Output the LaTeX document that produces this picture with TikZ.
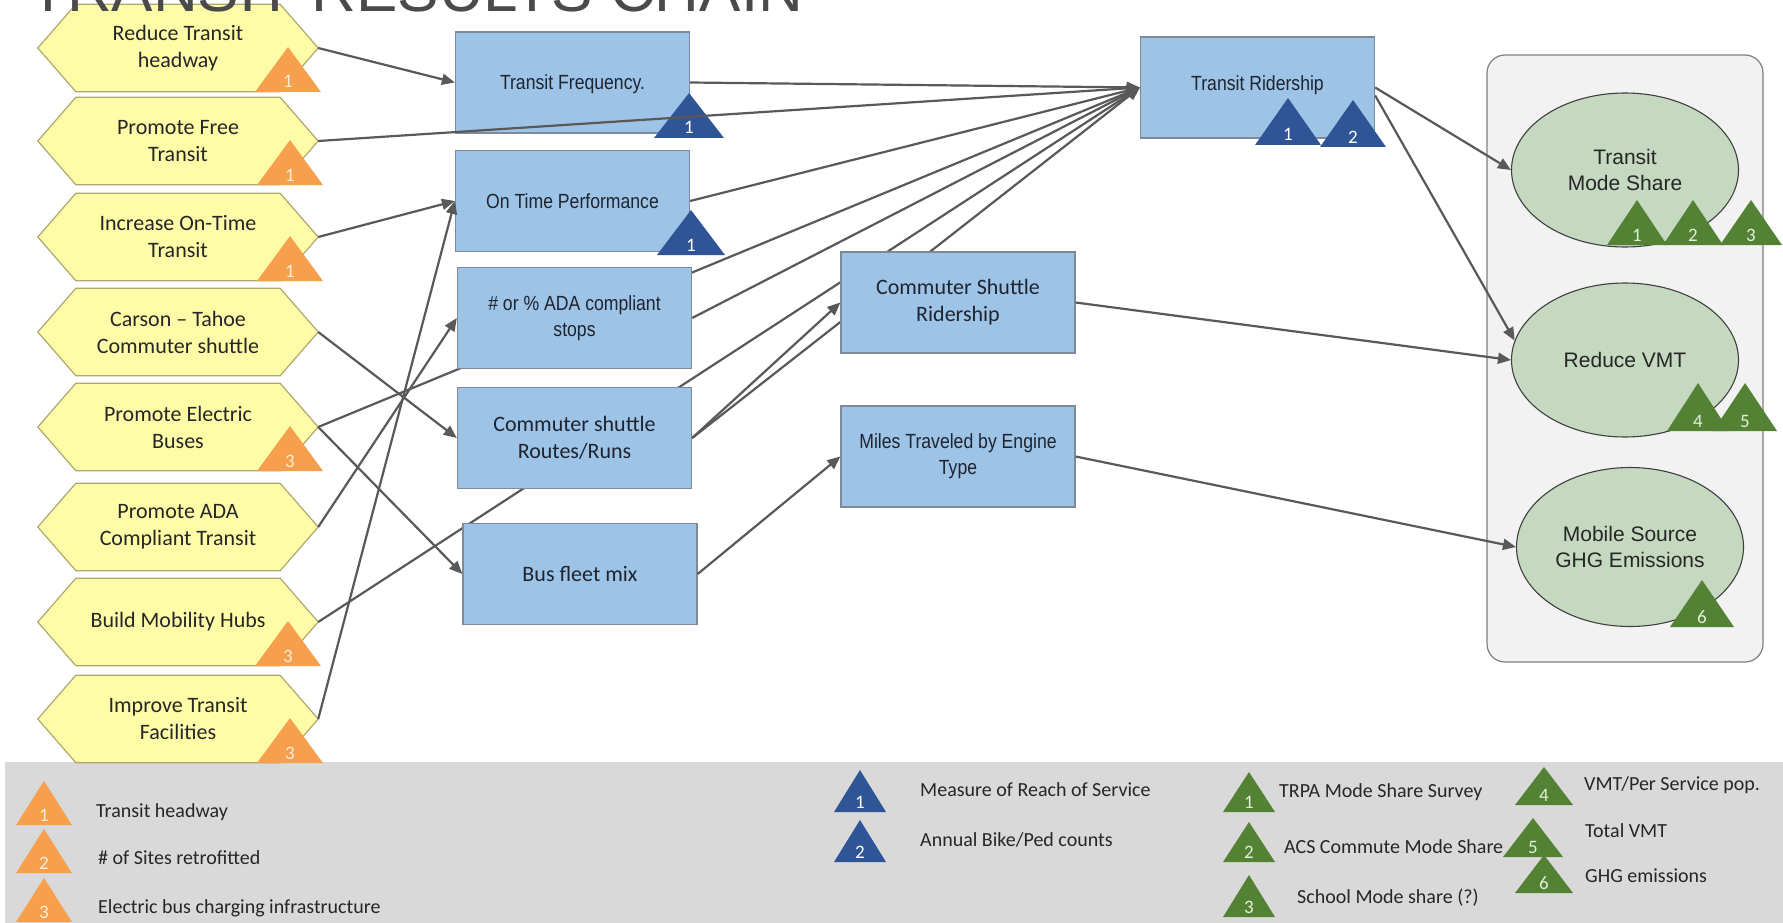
\documentclass[tikz,border=0pt]{standalone}
\usepackage{fontspec}
\setmainfont{Carlito}
\newfontfamily\arialf{Liberation Sans}
\newfontfamily\narrowf{Liberation Sans}[FakeStretch=0.86]
\usetikzlibrary{arrows.meta,shapes.geometric,calc}
\definecolor{hexfill}{HTML}{FFFCA8}
\definecolor{hexdraw}{HTML}{ADA86E}
\definecolor{orng}{HTML}{F6A04D}
\definecolor{orngtxt}{HTML}{FDEBDC}
\definecolor{boxfill}{HTML}{9DC3E6}
\definecolor{boxdraw}{HTML}{7F8A99}
\definecolor{boxtext}{HTML}{1E2430}
\definecolor{dblue}{HTML}{2F5597}
\definecolor{ellfill}{HTML}{C5D9C1}
\definecolor{elldraw}{HTML}{3F3F3F}
\definecolor{grn}{HTML}{548235}
\definecolor{grntxt}{HTML}{E2EFD9}
\definecolor{contfill}{HTML}{F2F2F2}
\definecolor{contdraw}{HTML}{7F7F7F}
\definecolor{bandclr}{HTML}{D9D9D9}
\definecolor{lineclr}{HTML}{595959}
\definecolor{titleclr}{HTML}{4A4A4A}
\definecolor{txtdark}{HTML}{262626}
\pgfdeclarelayer{bg}
\pgfdeclarelayer{behind}
\pgfsetlayers{bg,behind,main}
\newcommand\hexnode[4]{%
  \node[hexbox] (#1) at (#2,#3) {#4};
  \begin{pgfonlayer}{bg}
  \filldraw[hexsty] (#1.west) -- ([xshift=38pt]#1.north west) -- ([xshift=-38pt]#1.north east)
     -- (#1.east) -- ([xshift=-38pt]#1.south east) -- ([xshift=38pt]#1.south west) -- cycle;
  \end{pgfonlayer}}
\newcommand\tri[7]{%
  \fill[#2tri] (#3-#5,#4) -- (#3,#4-#6) -- (#3+#5,#4) -- cycle;
  \node[#2num] (#1) at (#3,#4-4) {#7};}
\begin{document}
\begin{tikzpicture}[x=1pt,y=-1pt,
  hexbox/.style={minimum width=280pt, minimum height=87pt, inner sep=0pt, align=center,
     font=\fontsize{22}{27}\selectfont, text=txtdark},
  hexsty/.style={fill=hexfill, draw=hexdraw, line width=1.2pt},
  bluebox/.style={rectangle, draw=boxdraw, fill=boxfill, line width=1.3pt, minimum width=234pt,
     minimum height=101pt, inner sep=0pt, align=center, text=boxtext},
  nar/.style={font=\narrowf\fontsize{20.5}{26}\selectfont},
  cal/.style={font=\fontsize{22}{27}\selectfont},
  ellbox/.style={ellipse, draw=elldraw, line width=1.1pt, fill=ellfill, minimum width=227pt,
     minimum height=154pt, inner sep=0pt, align=center, text=txtdark,
     font=\arialf\fontsize{21}{26}\selectfont},
  otri/.style={fill=orng}, btri/.style={fill=dblue}, gtri/.style={fill=grn},
  trinum/.style={anchor=base, inner sep=0pt, font=\fontsize{19}{19}\selectfont},
  onum/.style={trinum, text=orngtxt}, bnum/.style={trinum, text=white}, gnum/.style={trinum, text=grntxt},
  legtxt/.style={anchor=west, inner sep=0pt, font=\fontsize{20}{24}\selectfont, text=txtdark},
  conn/.style={draw=lineclr, line width=2.2pt, -{Triangle[length=13pt,width=11pt]}}
]
\useasboundingbox (0,0) rectangle (1783,923);
\begin{pgfonlayer}{bg}
  \fill[white] (0,0) rectangle (1783,923);
  \fill[bandclr] (5,762) rectangle (1783,923);
  \filldraw[draw=contdraw, fill=contfill, line width=1.2pt, rounded corners=18pt] (1487,55) rectangle (1763,662);
\end{pgfonlayer}
% title (cut at the top edge, as in the reference)
\begin{scope}
  \clip (0,0) rectangle (1783,923);
  \node[anchor=base west, inner sep=0pt, font=\arialf\fontsize{62}{62}\selectfont, text=titleclr] (title) at (29,12) {TRANSIT RESULTS CHAIN};
\end{scope}
% strategies
\hexnode{h1}{178}{48}{Reduce Transit\\headway}
\hexnode{h2}{178}{141}{Promote Free\\Transit}
\hexnode{h3}{178}{237}{Increase On-Time\\Transit}
\hexnode{h4}{178}{332}{Carson – Tahoe\\Commuter shuttle}
\hexnode{h5}{178}{427}{Promote Electric\\Buses}
\hexnode{h6}{178}{527}{Promote ADA\\Compliant Transit}
\hexnode{h7}{178}{622}{Build Mobility Hubs}
\hexnode{h8}{178}{719}{Improve Transit\\Facilities}
\tri{o1}{o}{288}{92}{33}{45}{1}
\tri{o2}{o}{290}{185}{33}{45}{1}
\tri{o3}{o}{290}{281}{33}{45}{1}
\tri{o5}{o}{290}{471}{33}{45}{3}
\tri{o7}{o}{288}{666}{33}{45}{3}
\tri{o8}{o}{290}{763}{33}{45}{3}
% output boxes
\node[bluebox, nar] (TF) at (572.5,82.5) {\raisebox{-7pt}[0pt][0pt]{Transit Frequency.}};
\node[bluebox, nar] (OTP) at (572.5,201) {On Time Performance};
\node[bluebox, nar] (ADA) at (574.5,318) {\# or \% ADA compliant\\stops};
\node[bluebox, cal] (CSR) at (574.5,438) {Commuter shuttle\\Routes/Runs};
\node[bluebox, cal] (BFM) at (580,574) {Bus fleet mix};
\node[bluebox, cal] (CSRd) at (958,302.5) {Commuter Shuttle\\Ridership};
\node[bluebox, nar] (MT) at (958,456.5) {Miles Traveled by Engine\\Type};
\node[bluebox, nar] (TR) at (1257.5,87.5) {\raisebox{-3pt}[0pt][0pt]{Transit Ridership}};
\tri{b1}{b}{689}{138}{35}{45}{1}
\tri{b2}{b}{691}{255}{34}{45}{1}
\tri{b3}{b}{1288}{145}{33}{47}{1}
\tri{b4}{b}{1353}{147}{33}{47}{2}
% outcomes
\node[ellbox] (E1) at (1625,170) {Transit\\Mode Share};
\node[ellbox] (E2) at (1625,360) {Reduce VMT};
\node[ellbox, minimum height=159pt] (E3) at (1630,547) {Mobile Source\\GHG Emissions};
\tri{g1}{g}{1637}{245}{30}{45}{1}
\tri{g2}{g}{1693}{245}{30}{45}{2}
\tri{g3}{g}{1751}{245}{31}{45}{3}
\tri{g4}{g}{1698}{431}{31}{48}{4}
\tri{g5}{g}{1745}{431}{32}{48}{5}
\tri{g6}{g}{1702}{627}{32}{47}{6}
% connectors hidden behind boxes
\begin{pgfonlayer}{behind}
  \draw[conn] (h5.east) -- (TR.west);
  \draw[conn] (h7.east) -- (TR.west);
  \draw[conn] (CSR.east) -- (TR.west);
\end{pgfonlayer}
% visible connectors
\draw[conn] (h1.east) -- (TF.west);
\draw[conn] (h2.east) -- (TR.west);
\draw[conn] (h3.east) -- (OTP.west);
\draw[conn] (h4.east) -- (CSR.west);
\draw[conn] (h5.east) -- (BFM.west);
\draw[conn] (h6.east) -- (ADA.west);
\draw[conn] (h8.east) -- (OTP.west);
\draw[conn] (TF.east) -- (TR.west);
\draw[conn] (OTP.east) -- (TR.west);
\draw[conn] (ADA.east) -- (TR.west);
\draw[conn] (CSR.east) -- (CSRd.west);
\draw[conn] (BFM.east) -- (MT.west);
\draw[conn] (TR.east) -- (E1.west);
\draw[conn] ([yshift=-8pt]TR.east) -- (E2.170);
\draw[conn] (CSRd.east) -- (E2.west);
\draw[conn] (MT.east) -- (E3.west);
% legend
\tri{lo1}{o}{44}{825}{28}{44}{1}
\tri{lo2}{o}{44}{873}{28}{44}{2}
\tri{lo3}{o}{44}{922}{28}{44}{3}
\node[legtxt] (t1) at (96,812) {Transit headway};
\node[legtxt] (t2) at (98,858) {\# of Sites retrofitted};
\node[legtxt] (t3) at (98,908) {Electric bus charging infrastructure};
\tri{lb1}{b}{860}{812}{26}{42}{1}
\tri{lb2}{b}{860}{862}{26}{42}{2}
\node[legtxt] (t4) at (920,790) {Measure of Reach of Service};
\node[legtxt] (t5) at (920,840) {Annual Bike/Ped counts};
\tri{lg1}{g}{1249}{812}{26}{40}{1}
\tri{lg2}{g}{1249}{862}{26}{40}{2}
\tri{lg3}{g}{1249}{917}{26}{42}{3}
\tri{lg4}{g}{1544}{805}{29}{38}{4}
\tri{lg5}{g}{1533}{857}{30}{39}{5}
\tri{lg6}{g}{1544}{893}{29}{38}{6}
\node[legtxt] (t6) at (1279,792) {TRPA Mode Share Survey};
\node[legtxt] (t7) at (1284,847) {ACS Commute Mode Share};
\node[legtxt] (t8) at (1297,898) {School Mode share (?)};
\node[legtxt] (t9) at (1584,785) {VMT/Per Service pop.};
\node[legtxt] (t10) at (1585,831) {Total VMT};
\node[legtxt] (t11) at (1585,876) {GHG emissions};
\end{tikzpicture}
\end{document}
